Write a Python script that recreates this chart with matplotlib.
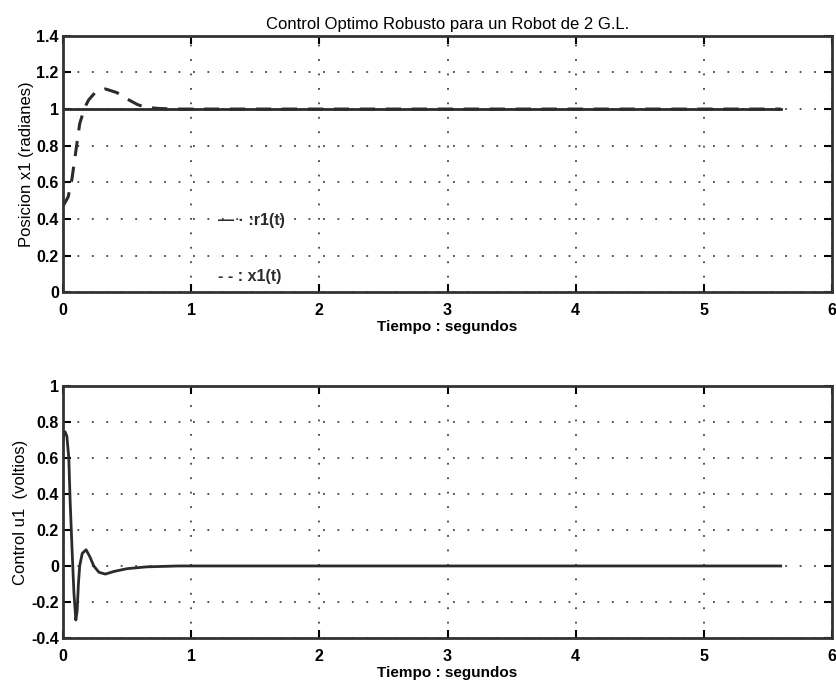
import numpy as np
import matplotlib
matplotlib.use("Agg")
import matplotlib.pyplot as plt

plt.rcParams['font.family'] = ['Liberation Sans', 'DejaVu Sans']

# reference r1(t)
t_ref = [0, 5.6]
r1 = [1.0, 1.0]

# response x1(t)
t_x1 = [0, 0.04, 0.07, 0.094, 0.13, 0.17, 0.2, 0.25, 0.33, 0.42, 0.5, 0.58,
        0.64, 0.75, 0.9, 1.5, 5.6]
x1 = [0.47, 0.52, 0.62, 0.74, 0.92, 1.01, 1.05, 1.09, 1.11, 1.09, 1.055, 1.025,
      1.01, 1.003, 1.0, 1.0, 1.0]

# control u1(t)
t_u1 = [0, 0.008, 0.016, 0.03, 0.045, 0.055, 0.07, 0.085, 0.1, 0.11, 0.12, 0.13,
        0.15, 0.18, 0.21, 0.24, 0.28, 0.33, 0.4, 0.5, 0.65, 0.9, 5.6]
u1 = [0.70, 0.74, 0.745, 0.72, 0.6, 0.37, 0.1, -0.15, -0.30, -0.25, -0.1, 0.0,
      0.07, 0.09, 0.05, 0.0, -0.035, -0.045, -0.03, -0.015, -0.005, 0.0, 0.0]

xticks = [0, 1, 2, 3, 4, 5, 6]
yticks_top = [0, 0.2, 0.4, 0.6, 0.8, 1, 1.2, 1.4]
yticks_bot = [-0.4, -0.2, 0, 0.2, 0.4, 0.6, 0.8, 1]

lc = '#2b2b2b'

fig = plt.figure(figsize=(8.37, 6.89), dpi=100)
ax1 = fig.add_axes([0.0753, 0.576, 0.9187, 0.372])
ax2 = fig.add_axes([0.0753, 0.074, 0.9187, 0.366])


def style(ax, yticks):
    ax.set_xlim(0, 6)
    ax.set_ylim(yticks[0], yticks[-1])
    ax.set_xticks(xticks)
    ax.set_yticks(yticks)
    ax.set_xticklabels([str(v) for v in xticks], fontweight='bold', fontsize=11.5)
    ax.set_yticklabels(['%g' % v for v in yticks], fontweight='bold', fontsize=11.5)
    ax.tick_params(direction='in', length=6, width=1.5, top=True, right=True)
    ax.tick_params(axis='x', pad=8)
    ax.tick_params(axis='y', pad=3)
    ax.grid(True, linestyle=(0, (1, 7)), color='#444444', linewidth=1.3)
    for s in ax.spines.values():
        s.set_linewidth(2)
        s.set_color('#333333')
    ax.set_xlabel('Tiempo : segundos', fontsize=11, fontweight='bold', labelpad=1)


ax1.plot(t_ref, r1, color=lc, linewidth=2)
ax1.plot(t_x1, x1, color=lc, linewidth=2.2, linestyle=(0, (5, 3.5)))
style(ax1, yticks_top)
ax1.set_ylabel('Posicion x1 (radianes)', fontsize=12, labelpad=2)
ax1.set_title('Control Optimo Robusto para un Robot de 2 G.L.', fontsize=12, pad=5)
ax1.text(1.21, 0.39, '\u2014 \u00b7 :r1(t)', fontsize=11.5, fontweight='bold',
         color=lc, va='center')
ax1.text(1.21, 0.087, '- - : x1(t)', fontsize=11.5, fontweight='bold',
         color=lc, va='center')

ax2.plot(t_u1, u1, color=lc, linewidth=2)
style(ax2, yticks_bot)
ax2.set_ylabel('Control u1  (voltios)', fontsize=12, labelpad=2)

fig.savefig('out.png', dpi=100)
